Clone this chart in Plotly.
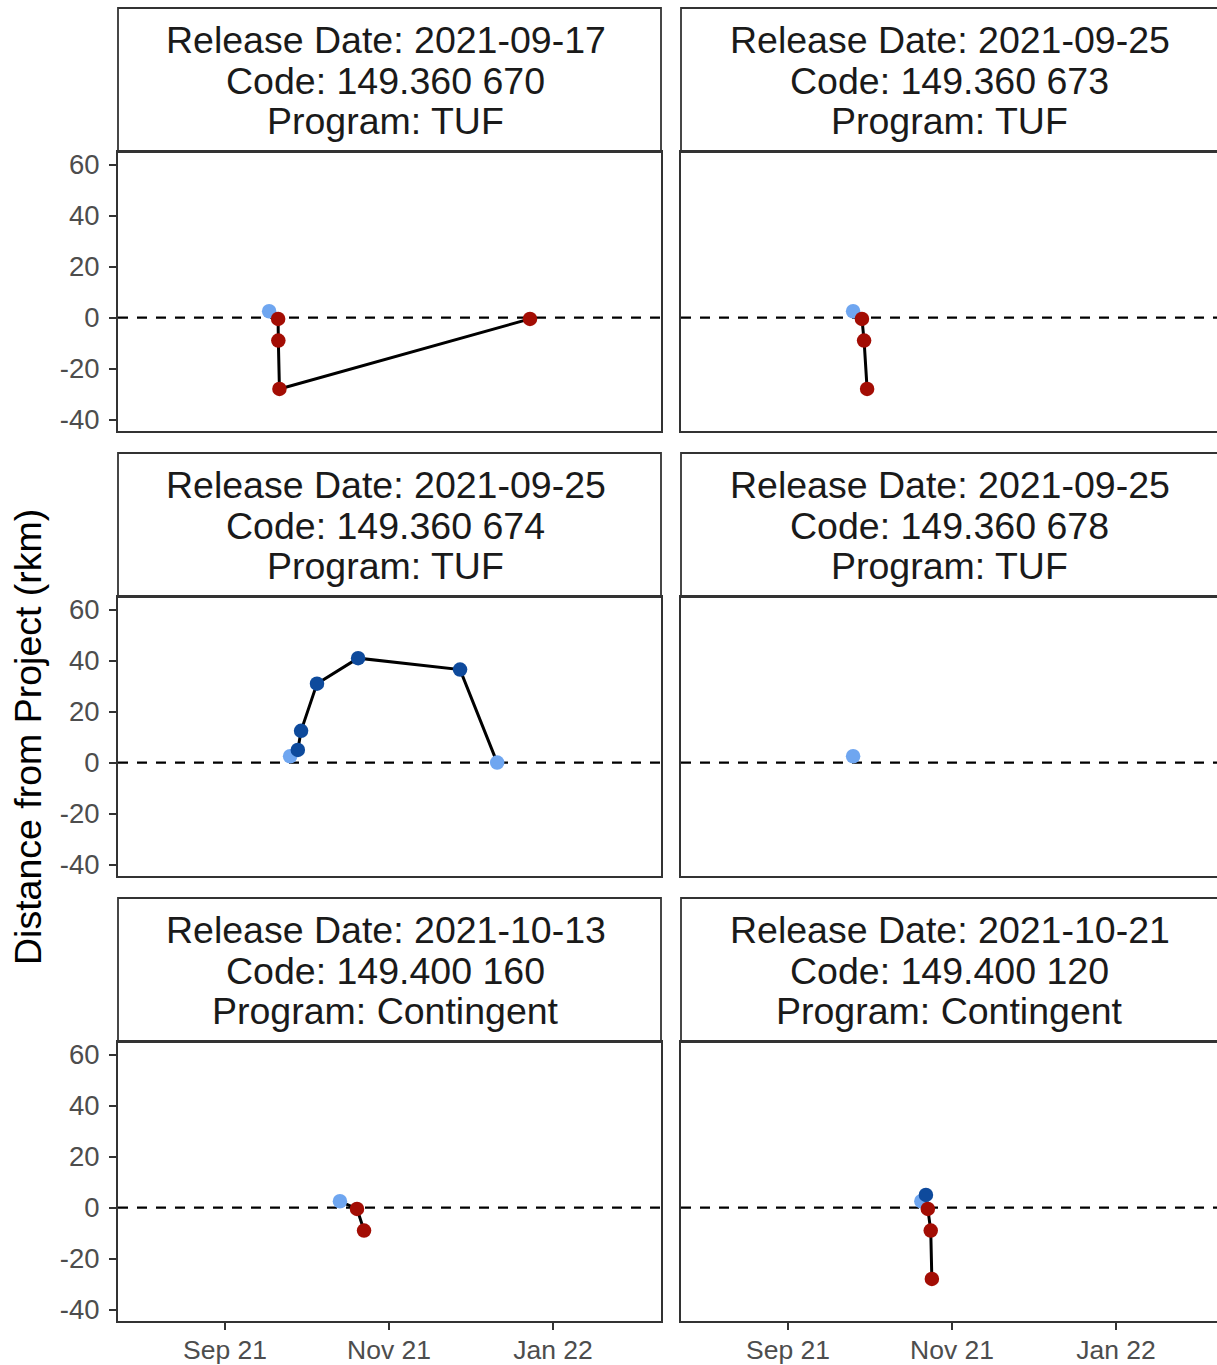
import plotly.graph_objects as go
import pandas as pd

# ---------------- data ----------------
release_dates = ["2021-09-17", "2021-09-25", "2021-09-25", "2021-09-25", "2021-10-13", "2021-10-21"]
codes = ["149.360 670", "149.360 673", "149.360 674", "149.360 678", "149.400 160", "149.400 120"]
programs = ["TUF", "TUF", "TUF", "TUF", "Contingent", "Contingent"]

p1_dates = ["2021-09-17 10:00", "2021-09-20 18:00", "2021-09-20 20:00", "2021-09-21 06:00", "2021-12-23 10:00"]
p1_rkm = [2.5, -0.5, -9.0, -28.0, -0.5]
p1_status = ["Project", "Downstream", "Downstream", "Downstream", "Downstream"]

p2_dates = ["2021-09-25 05:00", "2021-09-28 12:00", "2021-09-29 07:00", "2021-09-30 10:00"]
p2_rkm = [2.5, -0.5, -9.0, -28.0]
p2_status = ["Project", "Downstream", "Downstream", "Downstream"]

p3_dates = ["2021-09-25 05:00", "2021-09-28 02:00", "2021-09-29 07:00", "2021-10-05 05:00",
            "2021-10-20 12:00", "2021-11-27 10:00", "2021-12-11 05:00"]
p3_rkm = [2.5, 5.0, 12.5, 31.0, 41.0, 36.5, 0.0]
p3_status = ["Project", "Upstream", "Upstream", "Upstream", "Upstream", "Upstream", "Project"]

p4_dates = ["2021-09-25 05:00"]
p4_rkm = [2.5]
p4_status = ["Project"]

p5_dates = ["2021-10-13 18:00", "2021-10-20 02:00", "2021-10-22 17:00"]
p5_rkm = [2.5, -0.5, -9.0]
p5_status = ["Project", "Downstream", "Downstream"]

p6_dates = ["2021-10-20 14:00", "2021-10-22 07:00", "2021-10-23 00:00", "2021-10-24 02:00", "2021-10-24 12:00"]
p6_rkm = [2.5, 5.0, -0.5, -9.0, -28.0]
p6_status = ["Project", "Upstream", "Downstream", "Downstream", "Downstream"]

y_tick_vals = [-40, -20, 0, 20, 40, 60]
y_tick_text = ["-40", "-20", "0", "20", "40", "60"]
x_tick_vals = ["2021-09-01", "2021-11-01", "2022-01-01"]
x_tick_text = ["Sep 21", "Nov 21", "Jan 22"]
y_title = "Distance from Project (rkm)"

# ---------------- styling ----------------
status_colors = {"Project": "#6FA6F0", "Upstream": "#0E4A9C", "Downstream": "#A30D04"}
status_order = ["Project", "Upstream", "Downstream"]
FONT = "Liberation Sans, Arial, sans-serif"
W, H = 1217, 1365
BORDER = "#333333"

col_px = [(118, 661), (681, 1217)]
row_strip_px = [(8, 152), (453, 597), (898, 1042)]
row_panel_px = [(152, 431), (597, 876), (1042, 1321)]

px_per_day = 2.689
sep1_px_left = 225 - 118  # offset of Sep 1 from the panel's left edge
sep1 = pd.Timestamp("2021-09-01")
x_start = sep1 - pd.Timedelta(days=sep1_px_left / px_per_day)


def x_end(width_px):
    return x_start + pd.Timedelta(days=width_px / px_per_day)


y_range = [-44.5, 65.0]


def fx(px):
    return px / W


def fy(py):
    return 1 - py / H


panels = [
    (p1_dates, p1_rkm, p1_status),
    (p2_dates, p2_rkm, p2_status),
    (p3_dates, p3_rkm, p3_status),
    (p4_dates, p4_rkm, p4_status),
    (p5_dates, p5_rkm, p5_status),
    (p6_dates, p6_rkm, p6_status),
]

fig = go.Figure()
shapes = []
annotations = []
layout_axes = {}

for i, (dates, rkm, status) in enumerate(panels):
    n = i + 1
    r, c = divmod(i, 2)
    xa = "x" if n == 1 else f"x{n}"
    ya = "y" if n == 1 else f"y{n}"
    xkey = "xaxis" if n == 1 else f"xaxis{n}"
    ykey = "yaxis" if n == 1 else f"yaxis{n}"
    d = pd.to_datetime(dates)

    # connecting line
    fig.add_trace(go.Scatter(x=d, y=rkm, mode="lines", line=dict(color="black", width=3),
                             xaxis=xa, yaxis=ya, showlegend=False, hoverinfo="skip"))
    # points by status
    for st in status_order:
        idx = [k for k, s in enumerate(status) if s == st]
        if not idx:
            continue
        fig.add_trace(go.Scatter(x=[d[k] for k in idx], y=[rkm[k] for k in idx], mode="markers",
                                 marker=dict(color=status_colors[st], size=14.5, line=dict(width=0)),
                                 xaxis=xa, yaxis=ya, showlegend=False, name=st))

    x0p, x1p = col_px[c]
    p0, p1 = row_panel_px[r]
    s0, s1 = row_strip_px[r]
    bottom_row = (r == 2)
    left_col = (c == 0)

    layout_axes[xkey] = dict(
        domain=[fx(x0p), fx(x1p)], anchor=ya, type="date",
        range=[x_start, x_end(x1p - x0p)],
        showgrid=False, zeroline=False, automargin=False,
        showline=True, mirror=True, linecolor=BORDER, linewidth=1.8,
        ticks="outside" if bottom_row else "", ticklen=7, tickwidth=2, tickcolor=BORDER,
        tickvals=pd.to_datetime(x_tick_vals), ticktext=x_tick_text,
        showticklabels=bottom_row,
        tickfont=dict(family=FONT, size=26.5, color="#4D4D4D"),
        ticklabelstandoff=-3,
    )
    layout_axes[ykey] = dict(
        domain=[fy(p1), fy(p0)], anchor=xa, range=y_range,
        showgrid=False, zeroline=False, automargin=False,
        showline=True, mirror=left_col, linecolor=BORDER, linewidth=1.8,
        ticks="outside" if left_col else "", ticklen=7, tickwidth=2, tickcolor=BORDER,
        tickvals=y_tick_vals, ticktext=y_tick_text,
        showticklabels=left_col,
        tickfont=dict(family=FONT, size=27.5, color="#4D4D4D"),
        ticklabelstandoff=4,
    )

    # dashed zero reference line
    shapes.append(dict(type="line", xref=f"{xa} domain", yref=ya, x0=0, x1=1, y0=0, y1=0,
                       line=dict(color="black", width=2.2, dash="10px,9px"), layer="below"))

    # strip box
    strip_x1 = x1p if left_col else x0p + (col_px[0][1] - col_px[0][0]) + 2
    shapes.append(dict(type="rect", xref="paper", yref="paper",
                       x0=fx(x0p), x1=fx(strip_x1), y0=fy(s1), y1=fy(s0),
                       line=dict(color=BORDER, width=1.8), fillcolor="white", layer="below"))
    cx = (x0p + strip_x1) / 2 - 4
    lines = [f"Release Date: {release_dates[i]}", f"Code: {codes[i]}", f"Program: {programs[i]}"]
    for k, txt in enumerate(lines):
        annotations.append(dict(text=txt, x=fx(cx), y=fy(s0 + 32 + 40.5 * k), xref="paper", yref="paper",
                                xanchor="center", yanchor="middle", showarrow=False,
                                font=dict(family=FONT, size=37.5, color="#1A1A1A")))

annotations.append(dict(text=y_title, x=fx(28), y=fy(737), xref="paper", yref="paper",
                        xanchor="center", yanchor="middle", showarrow=False, textangle=-90,
                        font=dict(family=FONT, size=37.5, color="black")))

fig.update_layout(
    width=W, height=H,
    margin=dict(l=0, r=0, t=0, b=0, autoexpand=False),
    paper_bgcolor="white", plot_bgcolor="white",
    shapes=shapes, annotations=annotations,
    showlegend=False,
    **layout_axes,
)

fig.write_html("out.html", config={"displayModeBar": False},
               post_script="document.body.style.margin='0px';document.body.style.overflow='hidden';")
